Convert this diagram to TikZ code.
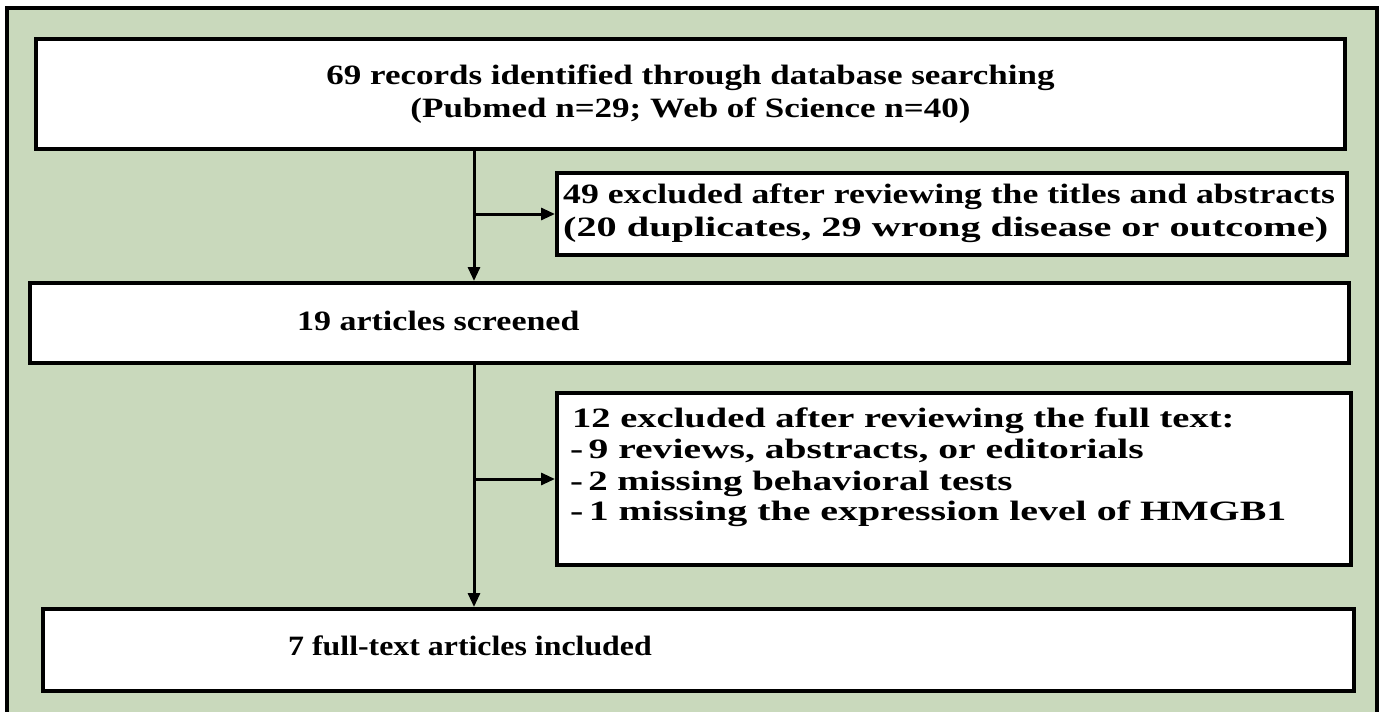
\documentclass[tikz,border=0pt]{standalone}
\usepackage{fontspec}
\setmainfont{Liberation Serif}
\newfontfamily\flowfont[FakeStretch=1.25]{Liberation Serif}
\usetikzlibrary{arrows.meta}
\definecolor{bggreen}{RGB}{201,217,188}
\newcommand{\hstretch}[2]{\scalebox{#1}[1]{#2}}
\begin{document}
\begin{tikzpicture}[x=1pt,y=-1pt,
  box/.style={draw=black,line width=4pt,fill=white,rectangle,inner sep=0pt,anchor=north west},
  txt/.style={font=\flowfont\bfseries\fontsize{28}{33}\selectfont,inner sep=0pt},
  ltxt/.style={txt,anchor=base west},
  arr/.style={line width=3pt,-{Triangle[length=14pt,width=12pt]}}]
\useasboundingbox (0,0) rectangle (1379,712);
\path[fill=bggreen,draw=black,line width=4pt] (7,8) rectangle (1377,740);
% boxes
\node[box,minimum width=1309pt,minimum height=110pt,align=center,txt] (rec) at (34,37)
  {69 records identified through database searching\\(Pubmed n=29; Web of Science n=40)};
\node[box,minimum width=790pt,minimum height=82pt] (ex1) at (555,171) {};
\node[box,minimum width=1319pt,minimum height=80pt] (scr) at (28,281) {};
\node[box,minimum width=794pt,minimum height=172pt] (ex2) at (555,391) {};
\node[box,minimum width=1311pt,minimum height=82pt] (inc) at (41,607) {};
% texts
\node[ltxt] (ex1a) at (563,203) {\hstretch{1.02}{49 excluded after reviewing the titles and abstracts}};
\node[ltxt] (ex1b) at (563,236) {\hstretch{1.15}{(20 duplicates, 29 wrong disease or outcome)}};
\node[ltxt] (scrt) at (297,330) {\hstretch{0.97}{19 articles screened}};
\node[ltxt] (ex2a) at (572,427) {\hstretch{1.10}{12 excluded after reviewing the full text:}};
\node[ltxt] (ex2b) at (570,458) {\hstretch{1.13}{-\,9 reviews, abstracts, or editorials}};
\node[ltxt] (ex2c) at (570,490) {\hstretch{1.11}{-\,2 missing behavioral tests}};
\node[ltxt] (ex2d) at (570,520) {\hstretch{1.14}{-\,1 missing the expression level of HMGB1}};
\node[ltxt] (inct) at (288,655) {\hstretch{0.91}{7 full-text articles included}};
% connectors
\coordinate (trunk) at (474,0);
\draw[arr] (rec.south -| trunk) -- (scr.north -| trunk);
\draw[arr] (trunk |- ex1.west) -- (ex1.west);
\draw[arr] (scr.south -| trunk) -- (inc.north -| trunk);
\draw[arr] (trunk |- ex2.west) -- (ex2.west);
\end{tikzpicture}
\end{document}
